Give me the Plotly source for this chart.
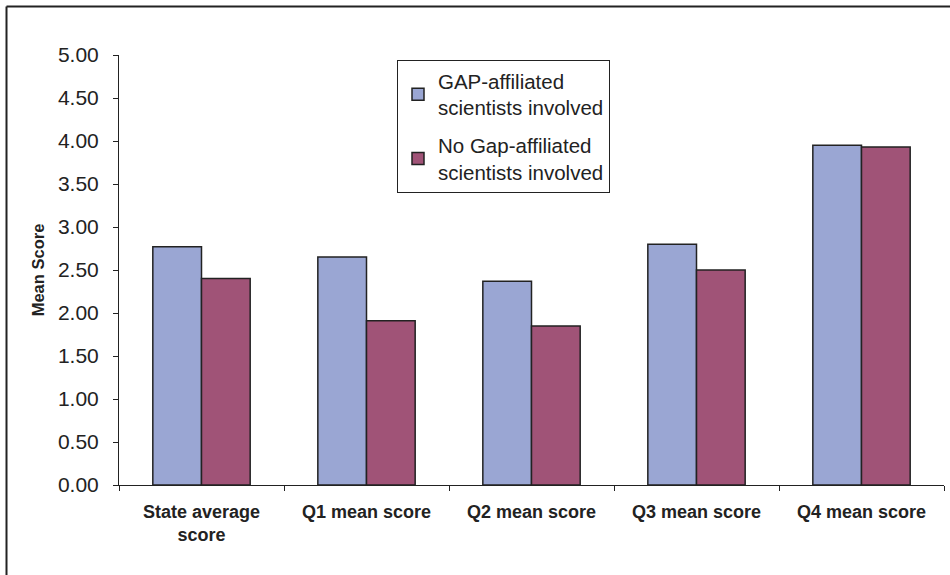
import plotly.graph_objects as go

categories = ["State average<br>score", "Q1 mean score", "Q2 mean score", "Q3 mean score", "Q4 mean score"]
gap_involved = [2.77, 2.65, 2.37, 2.80, 3.95]
no_gap_involved = [2.40, 1.91, 1.85, 2.50, 3.93]
series_names = ["GAP-affiliated<br>scientists involved", "No Gap-affiliated<br>scientists involved"]
y_ticks = [0, 0.5, 1, 1.5, 2, 2.5, 3, 3.5, 4, 4.5, 5]

W, H = 950, 575
L, R, T, B = 119, 6, 55, 90
pw, ph = W - L - R, H - T - B

def px_x(p):
    return (p - L) / pw

def px_y(p):
    return (H - B - p) / ph

FONT = "Liberation Sans, Arial, sans-serif"
INK = "#222222"

fig = go.Figure()
fig.add_trace(go.Bar(
    x=categories, y=gap_involved, name=series_names[0], legendgroup="gap",
    marker=dict(color="#9AA6D3", line=dict(color=INK, width=1.5)),
))
fig.add_trace(go.Bar(
    x=categories, y=no_gap_involved, name=series_names[1], legendgroup="nogap",
    marker=dict(color="#A05377", line=dict(color=INK, width=1.5)),
))

# outer frame (left and top edges of the chart border)
fig.add_shape(type="line", xref="paper", yref="paper",
              x0=px_x(6.5), x1=px_x(6.5), y0=px_y(600), y1=px_y(6.5),
              line=dict(color=INK, width=2))
fig.add_shape(type="line", xref="paper", yref="paper",
              x0=px_x(6.5), x1=px_x(1000), y0=px_y(6.5), y1=px_y(6.5),
              line=dict(color=INK, width=2))

fig.update_layout(
    width=W, height=H,
    margin=dict(l=L, r=R, t=T, b=B, autoexpand=False),
    paper_bgcolor="white", plot_bgcolor="white",
    font=dict(family=FONT, color=INK),
    barmode="group", bargap=0.41, bargroupgap=0,
    showlegend=True,
    legend=dict(
        x=px_x(397), y=px_y(60), xanchor="left", yanchor="top",
        bgcolor="white", bordercolor=INK, borderwidth=1,
        font=dict(size=20.5, family=FONT, color=INK),
        tracegroupgap=8, traceorder="grouped",
    ),
    xaxis=dict(
        type="category", showline=True, linecolor=INK, linewidth=1,
        ticks="outside", tickson="boundaries", ticklen=5, tickcolor=INK,
        tickfont=dict(size=18, family=FONT, color=INK, weight="bold"),
        ticklabelstandoff=10,
        showgrid=False, zeroline=False,
    ),
    yaxis=dict(
        range=[0, 5], tickvals=y_ticks, tickformat=".2f",
        showline=True, linecolor=INK, linewidth=1,
        ticks="outside", ticklen=5, tickcolor=INK,
        tickfont=dict(size=21, family=FONT, color=INK),
        ticklabelstandoff=10,
        showgrid=False, zeroline=False,
        title=dict(text="Mean Score", standoff=9,
                   font=dict(size=16.5, family=FONT, color=INK, weight="bold")),
    ),
)

fig.write_html("out.html")
